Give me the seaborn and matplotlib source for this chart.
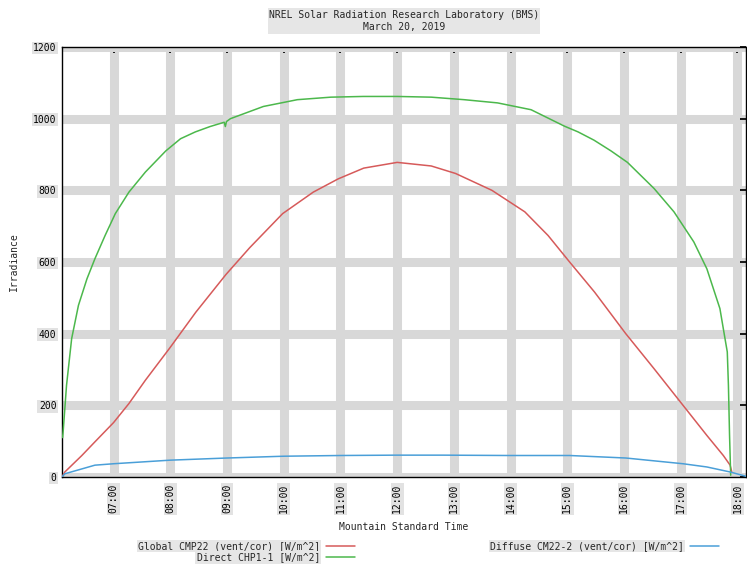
import pandas as pd
import matplotlib
matplotlib.use('Agg')
import matplotlib.pyplot as plt
from matplotlib.lines import Line2D
from matplotlib.ticker import MultipleLocator
import seaborn as sns

# Horário (horas decimais, MST) e irradiância [W/m^2]
tempo_global = [6.10, 6.14, 6.44, 6.67, 7.0, 7.27, 7.56, 7.99, 8.45, 8.98, 9.40, 9.98,
                10.52, 10.96, 11.41, 12.0, 12.6, 13.03, 13.67, 14.25, 14.66, 15.04,
                15.48, 16.03, 16.53, 17.04, 17.46, 17.75, 17.87, 17.90]
global_cmp22 = [3, 14, 60, 98, 152, 205, 270, 360, 460, 565, 640, 735,
                795, 832, 862, 878, 868, 847, 800, 740, 674, 600,
                516, 400, 302, 200, 116, 60, 33, 14]

tempo_direct = [6.10, 6.11, 6.17, 6.26, 6.38, 6.53, 6.67, 6.85, 7.03, 7.27, 7.56, 7.92,
                8.18, 8.44, 8.70, 8.95, 8.97, 8.99, 9.06, 9.64, 10.24, 10.83, 11.4,
                12.0, 12.6, 13.18, 13.77, 14.36, 14.95, 15.19, 15.47, 15.77, 16.06,
                16.53, 16.88, 17.23, 17.46, 17.69, 17.78, 17.82, 17.84, 17.86, 17.88]
direct_chp1 = [110, 126, 256, 386, 479, 553, 609, 674, 735, 795, 851, 910,
               944, 963, 978, 990, 978, 992, 1000, 1034, 1053, 1060, 1062,
               1062, 1060, 1053, 1044, 1025, 979, 963, 940, 910, 878,
               805, 740, 656, 581, 470, 386, 349, 256, 116, 5]

tempo_diffuse = [6.10, 6.14, 6.67, 7.0, 8.0, 9.0, 10.0, 11.0, 12.0, 12.8, 13.96,
                 15.04, 16.03, 17.04, 17.46, 17.87, 18.15]
diffuse_cm22 = [2, 9, 33, 37, 47, 53, 58, 60, 61, 61, 60,
                60, 53, 37, 28, 14, 2]

nomes_series = ['Global CMP22 (vent/cor) [W/m^2]',
                'Direct CHP1-1 [W/m^2]',
                'Diffuse CM22-2 (vent/cor) [W/m^2]']
cores = ['#d65a5a', '#4cb84c', '#4a9fd8']

horas_ticks = list(range(7, 19))
irradiancia_ticks = [0, 200, 400, 600, 800, 1000, 1200]

# Montar DataFrame no formato longo
df = pd.concat([
    pd.DataFrame({'hora': tempo_global, 'valor': global_cmp22, 'serie': nomes_series[0]}),
    pd.DataFrame({'hora': tempo_direct, 'valor': direct_chp1, 'serie': nomes_series[1]}),
    pd.DataFrame({'hora': tempo_diffuse, 'valor': diffuse_cm22, 'serie': nomes_series[2]}),
], ignore_index=True)

sns.set_theme(style='white')
plt.rcParams['font.family'] = ['DejaVu Sans Mono']
plt.rcParams['font.size'] = 7

fig = plt.figure(figsize=(7.47, 5.64), dpi=100)
ax = fig.add_axes([62 / 747, 1 - 477 / 564, (746 - 62) / 747, (477 - 47) / 564])

sns.lineplot(data=df, x='hora', y='valor', hue='serie', hue_order=nomes_series,
             palette=cores, estimator=None, sort=False, linewidth=1.1,
             legend=False, ax=ax, zorder=3)

ax.set_xlim(6.09, 18.15)
ax.set_ylim(0, 1200)

ax.set_xticks(horas_ticks, labels=[f'{h:02d}:00' for h in horas_ticks], rotation=90)
ax.set_yticks(irradiancia_ticks, labels=[str(v) for v in irradiancia_ticks])
ax.xaxis.set_minor_locator(MultipleLocator(1 / 6))

ax.tick_params(axis='both', which='both', direction='in', colors='black',
               top=True, right=True, labelsize=7)
ax.tick_params(axis='x', which='major', length=4, pad=5)
ax.tick_params(axis='x', which='minor', length=2.2)
ax.tick_params(axis='y', which='major', length=4, pad=4)

for lbl in ax.get_xticklabels() + ax.get_yticklabels():
    lbl.set_bbox(dict(facecolor='#e2e2e2', edgecolor='none', pad=1))

# Grade larga e clara (como no original)
ax.grid(True, which='major', color='#d8d8d8', linewidth=6.5, linestyle='-')
ax.set_axisbelow(True)

for spine in ax.spines.values():
    spine.set_color('black')
    spine.set_linewidth(1)

ax.set_title('NREL Solar Radiation Research Laboratory (BMS)\nMarch 20, 2019',
             fontsize=7, pad=12, linespacing=1.35,
             bbox=dict(facecolor='#e6e6e6', edgecolor='none', pad=1))
ax.set_xlabel('Mountain Standard Time', fontsize=7, labelpad=6)
ax.set_ylabel('Irradiance', fontsize=7, labelpad=10)

# Legendas no estilo gnuplot (texto antes da amostra)
handles = [Line2D([], [], color=c, linewidth=1.1) for c in cores]
leg1 = fig.legend(handles[:2], nomes_series[:2], loc='upper right',
                  bbox_to_anchor=(355 / 747, 1 - 541 / 564), markerfirst=False,
                  frameon=False, fontsize=7, handlelength=3.0, handletextpad=0.6,
                  labelspacing=0.15, borderpad=0, borderaxespad=0)
leg2 = fig.legend(handles[2:], nomes_series[2:], loc='upper right',
                  bbox_to_anchor=(719 / 747, 1 - 541 / 564), markerfirst=False,
                  frameon=False, fontsize=7, handlelength=3.0, handletextpad=0.6,
                  labelspacing=0.15, borderpad=0, borderaxespad=0)
for txt in leg1.get_texts() + leg2.get_texts():
    txt.set_bbox(dict(facecolor='#e6e6e6', edgecolor='none', pad=1))

fig.savefig('out.png', dpi=100)
